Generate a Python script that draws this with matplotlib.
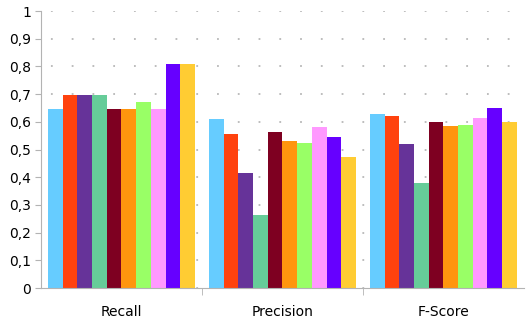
import numpy as np
import matplotlib
matplotlib.use("Agg")
import matplotlib.pyplot as plt
from matplotlib.ticker import FuncFormatter

categories = ["Recall", "Precision", "F-Score"]
series = [
    [0.645, 0.611, 0.627],
    [0.696, 0.558, 0.620],
    [0.696, 0.414, 0.520],
    [0.696, 0.264, 0.380],
    [0.645, 0.563, 0.600],
    [0.645, 0.532, 0.584],
    [0.670, 0.522, 0.587],
    [0.645, 0.582, 0.613],
    [0.809, 0.545, 0.651],
    [0.809, 0.475, 0.598],
]
colors = ["#66ccff", "#ff420e", "#663399", "#66cc99", "#7e0021",
          "#ff950e", "#99ff66", "#ff99ff", "#6600ff", "#ffcc33"]

fig = plt.figure(figsize=(5.3, 3.35), dpi=100)
ax = fig.add_axes([0.0774, 0.140, 0.911, 0.827])

n = len(series)
w = 0.913 / n
x = np.arange(len(categories))
for i, vals in enumerate(series):
    ax.bar(x - 0.4565 + w * (i + 0.5), vals, width=w, color=colors[i], zorder=2)

def fmt(v, p):
    if abs(v) < 1e-9:
        return "0"
    if abs(v - 1) < 1e-9:
        return "1"
    return ("%.1f" % v).replace(".", ",")

ax.set_xlim(-0.5, 2.5)
ax.set_ylim(0, 1)
ax.set_yticks(np.arange(0, 1.01, 0.1))
ax.yaxis.set_major_formatter(FuncFormatter(fmt))
ax.set_xticks(x)
ax.set_xticklabels(categories)
ax.set_xticks([0.5, 1.5], minor=True)
ax.tick_params(axis="x", which="major", length=0, pad=12, labelsize=10)
ax.tick_params(axis="x", which="minor", length=5, color="#b3b3b3")
ax.tick_params(axis="y", length=4, color="#b3b3b3", labelsize=10, pad=3)

ax.yaxis.grid(True, color="#b8b8b8", linestyle=(6, (1, 10.5)), linewidth=1.3, zorder=0)
ax.set_axisbelow(True)
for s in ["top", "right"]:
    ax.spines[s].set_visible(False)
for s in ["left", "bottom"]:
    ax.spines[s].set_color("#b3b3b3")

fig.savefig("out.png", dpi=100)
